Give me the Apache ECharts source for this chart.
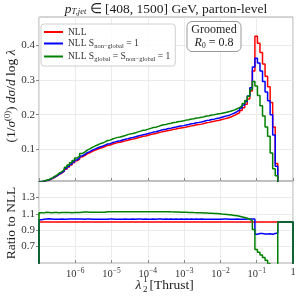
<!DOCTYPE html>
<html><head><meta charset="utf-8">
<script src="https://cdn.jsdelivr.net/npm/echarts@6/dist/echarts.min.js"></script>
<style>html,body{margin:0;padding:0;background:#fff}#c{width:299px;height:299px}</style>
</head><body><div id="c"></div>
<script>
// histogram bins in log10(lambda): 100 bins of 0.07 from -7 to 0
const binLogMin = -7;
const binWidthLog = 0.07;

const nll = [
0.0070,0.0090,0.0110,0.0130,0.0160,0.0200,0.0240,0.0290,0.0330,0.0380,
0.0440,0.0500,0.0560,0.0620,0.0680,0.0730,0.0790,0.0830,0.0880,0.0910,
0.0950,0.0980,0.1010,0.1040,0.1060,0.1090,0.1120,0.1130,0.1160,0.1180,
0.1200,0.1210,0.1230,0.1250,0.1270,0.1290,0.1300,0.1320,0.1340,0.1360,
0.1380,0.1390,0.1410,0.1430,0.1450,0.1460,0.1480,0.1500,0.1520,0.1530,
0.1550,0.1560,0.1580,0.1590,0.1610,0.1620,0.1630,0.1650,0.1660,0.1680,
0.1690,0.1710,0.1720,0.1730,0.1750,0.1770,0.1780,0.1800,0.1810,0.1830,
0.1840,0.1860,0.1880,0.1900,0.1920,0.1950,0.1980,0.2020,0.2060,0.2120,
0.2200,0.2300,0.2450,0.2680,0.3250,0.4250,0.4050,0.3780,0.3450,0.3100,
0.2800,0.2350,0.1650,0.0600,0,0,0,0,0,0];

const nllNonGlobal = [
0.0072,0.0093,0.0114,0.0135,0.0166,0.0207,0.0248,0.0300,0.0342,0.0393,
0.0455,0.0518,0.0580,0.0642,0.0704,0.0756,0.0818,0.0859,0.0911,0.0942,
0.0983,0.1014,0.1045,0.1076,0.1097,0.1128,0.1159,0.1170,0.1201,0.1221,
0.1242,0.1252,0.1273,0.1294,0.1314,0.1335,0.1346,0.1366,0.1387,0.1408,
0.1428,0.1439,0.1459,0.1480,0.1501,0.1511,0.1532,0.1553,0.1573,0.1584,
0.1604,0.1615,0.1635,0.1646,0.1666,0.1677,0.1687,0.1708,0.1718,0.1739,
0.1749,0.1770,0.1780,0.1791,0.1811,0.1832,0.1842,0.1863,0.1873,0.1894,
0.1904,0.1925,0.1946,0.1967,0.1987,0.2018,0.2049,0.2091,0.2132,0.2194,
0.2277,0.2381,0.2536,0.2774,0.3364,0.3620,0.3480,0.3250,0.2950,0.2650,
0.2400,0.2000,0.1420,0.0520,0,0,0,0,0,0];

const nllGlobal = [
0.0078,0.0100,0.0123,0.0145,0.0178,0.0223,0.0268,0.0323,0.0368,0.0424,
0.0491,0.0558,0.0624,0.0691,0.0758,0.0814,0.0885,0.0930,0.0986,0.1019,
0.1064,0.1098,0.1131,0.1165,0.1187,0.1221,0.1260,0.1271,0.1305,0.1328,
0.1350,0.1361,0.1384,0.1406,0.1429,0.1451,0.1463,0.1485,0.1508,0.1530,
0.1553,0.1564,0.1586,0.1609,0.1631,0.1643,0.1665,0.1688,0.1710,0.1721,
0.1744,0.1753,0.1774,0.1784,0.1805,0.1814,0.1824,0.1845,0.1854,0.1875,
0.1884,0.1905,0.1914,0.1924,0.1944,0.1965,0.1972,0.1991,0.1998,0.2017,
0.2024,0.2040,0.2057,0.2073,0.2089,0.2114,0.2138,0.2172,0.2202,0.2251,
0.2319,0.2404,0.2531,0.2720,0.2950,0.2820,0.2550,0.2260,0.1960,0.1650,
0.1380,0.0900,0.0450,0.0250,0,0,0,0,0,0];

const seriesNames = ['NLL', 'NLL Sng', 'NLL Sg Sng'];
const seriesColors = ['#ff0000', '#0000ff', '#008000'];
const xTickValues = [1e-7, 1e-6, 1e-5, 1e-4, 1e-3, 1e-2, 1e-1, 1];
const yMainTicks = [0.1, 0.2, 0.3, 0.4];
const yRatioTicks = [0.7, 0.9, 1.1, 1.3];

const FONT = 'Liberation Serif';

function edge(i) { return Math.pow(10, binLogMin + i * binWidthLog); }
function stepData(vals) {
  const n = vals.length;
  const pts = [[edge(0), 0]];
  for (let i = 0; i < n; i++) pts.push([edge(i), vals[i]]);
  pts.push([edge(n), vals[n - 1]]);
  pts.push([edge(n), 0]);
  return pts;
}
function ratio(vals) {
  return vals.map((v, i) => nll[i] > 0 ? v / nll[i] : 1);
}

const legendRich = {
  s: {fontSize: 6.5, fontFamily: FONT, color: '#333', verticalAlign: 'bottom', padding: [6, 0, 0, 0]}
};
function legendFmt(name) {
  if (name === 'NLL') return 'NLL';
  if (name === 'NLL Sng') return 'NLL S{s|non−global} = 1';
  return 'NLL S{s|global} = S{s|non−global} = 1';
}
function xLabel(v) {
  const e = Math.round(Math.log10(v));
  if (e === -7) return '';
  if (e === 0) return '1';
  return '10{sup|−' + (-e) + '}';
}

const datasets = [nll, nllNonGlobal, nllGlobal];
const series = [];
datasets.forEach((d, k) => {
  series.push({name: seriesNames[k], type: 'line', xAxisIndex: 0, yAxisIndex: 0, data: stepData(d),
    step: 'end', showSymbol: false, symbol: 'none', lineStyle: {color: seriesColors[k], width: 1.5},
    itemStyle: {color: seriesColors[k]}, z: 2 + k, clip: true});
});
datasets.forEach((d, k) => {
  series.push({name: seriesNames[k], type: 'line', xAxisIndex: 1, yAxisIndex: 1, data: stepData(ratio(d)),
    step: 'end', showSymbol: false, symbol: 'none', lineStyle: {color: seriesColors[k], width: 1.5},
    itemStyle: {color: seriesColors[k]}, z: 2 + k, clip: true});
});

const gridLine = {show: true, lineStyle: {color: '#e6e6e6', width: 0.8}};
const chart = echarts.init(document.getElementById('c'), null, {renderer: 'canvas'});
chart.setOption({
  animation: false,
  backgroundColor: '#fff',
  grid: [
    {left: 39, top: 17, width: 254, height: 164, show: true, borderColor: '#aaa', borderWidth: 1, backgroundColor: 'transparent'},
    {left: 39, top: 181, width: 254, height: 82, show: true, borderColor: '#aaa', borderWidth: 1, backgroundColor: 'transparent'}
  ],
  xAxis: [
    {type: 'log', logBase: 10, gridIndex: 0, min: 1e-7, max: 1,
     axisLine: {show: false}, axisLabel: {show: false, customValues: xTickValues},
     axisTick: {show: true, inside: true, length: 3, lineStyle: {color: '#888'}, customValues: xTickValues},
     splitLine: gridLine, minorTick: {show: false}},
    {type: 'log', logBase: 10, gridIndex: 1, min: 1e-7, max: 1,
     axisLine: {show: false},
     axisLabel: {show: true, customValues: xTickValues, formatter: xLabel, margin: 4, color: '#333',
       fontFamily: FONT, fontSize: 10.5,
       rich: {sup: {fontSize: 7.5, fontFamily: FONT, color: '#333', verticalAlign: 'top', padding: [0, 0, 6, 0]}}},
     axisTick: {show: true, inside: true, length: 3, lineStyle: {color: '#888'}, customValues: xTickValues},
     splitLine: gridLine}
  ],
  yAxis: [
    {type: 'value', gridIndex: 0, min: 0.01, max: 0.48,
     axisLine: {show: false},
     axisLabel: {customValues: yMainTicks, formatter: v => v.toFixed(1), color: '#333', fontFamily: FONT, fontSize: 11, margin: 4},
     axisTick: {show: true, length: 3, lineStyle: {color: '#888'}, customValues: yMainTicks},
     splitLine: gridLine},
    {type: 'value', gridIndex: 1, min: 0.5, max: 1.5,
     axisLine: {show: false},
     axisLabel: {customValues: yRatioTicks, formatter: v => v.toFixed(1), color: '#333', fontFamily: FONT, fontSize: 11, margin: 4},
     axisTick: {show: true, length: 3, lineStyle: {color: '#888'}, customValues: yRatioTicks},
     splitLine: gridLine}
  ],
  legend: {
    data: seriesNames, left: 41, top: 24, orient: 'vertical', itemGap: 1.5,
    itemWidth: 19, itemHeight: 2, icon: 'rect', padding: [3, 5, 3, 3],
    borderColor: '#d0d0d0', borderWidth: 1, borderRadius: 3, backgroundColor: 'rgba(255,255,255,0.85)',
    formatter: legendFmt,
    textStyle: {fontFamily: FONT, fontSize: 9.5, color: '#333', rich: legendRich}
  },
  series: series,
  graphic: [
    {type: 'text', x: 166, y: 9, z: 11,
     style: {text: '{i|p}{s|T,jet} ∈ [408, 1500] GeV, parton-level', font: '13.5px ' + FONT, fill: '#222', align: 'center', verticalAlign: 'middle',
       rich: {i: {fontStyle: 'italic', fontSize: 13.5, fontFamily: FONT}, s: {fontStyle: 'italic', fontSize: 8.5, fontFamily: FONT, padding: [6, 0, 0, 0]}}}},
    {type: 'rect', shape: {x: 187, y: 21.5, width: 54, height: 30, r: 5}, style: {fill: '#fff', stroke: '#999', lineWidth: 1}, z: 10},
    {type: 'text', x: 214, y: 30, z: 11, style: {text: 'Groomed', font: '12px ' + FONT, fill: '#222', align: 'center', verticalAlign: 'middle'}},
    {type: 'text', x: 214, y: 43, z: 11, style: {text: '{i|R}{s|0} = 0.8', font: '12px ' + FONT, fill: '#222', align: 'center', verticalAlign: 'middle',
       rich: {i: {fontStyle: 'italic', fontSize: 12, fontFamily: FONT}, s: {fontSize: 7.5, fontFamily: FONT, padding: [6, 0, 0, 0]}}}},
    {type: 'text', x: 11, y: 96, rotation: Math.PI / 2, z: 11,
     style: {text: '(1/{i|σ}{sup|(0)}) {i|dσ}/{i|d} log {i|λ}', font: '13.5px ' + FONT, fill: '#222', align: 'center', verticalAlign: 'middle',
       rich: {i: {fontStyle: 'italic', fontSize: 13.5, fontFamily: FONT}, sup: {fontSize: 8.5, fontFamily: FONT, padding: [0, 0, 7, 0]}}}},
    {type: 'text', x: 11, y: 223, rotation: Math.PI / 2, z: 11,
     style: {text: 'Ratio to NLL', font: '13.5px ' + FONT, fill: '#222', align: 'center', verticalAlign: 'middle'}},
    {type: 'text', x: 138.5, y: 285, z: 11,
     style: {text: 'λ', font: 'italic 13.5px ' + FONT, fill: '#222', align: 'center', verticalAlign: 'middle'}},
    {type: 'text', x: 143, y: 279.5, z: 12,
     style: {text: '1', font: '9px ' + FONT, fill: '#222', align: 'left', verticalAlign: 'middle'}},
    {type: 'text', x: 143, y: 290, z: 12,
     style: {text: '2', font: '9px ' + FONT, fill: '#222', align: 'left', verticalAlign: 'middle'}},
    {type: 'text', x: 149.5, y: 285, z: 11,
     style: {text: '[Thrust]', font: '13.5px ' + FONT, fill: '#222', align: 'left', verticalAlign: 'middle'}}
  ]
});
</script></body></html>
